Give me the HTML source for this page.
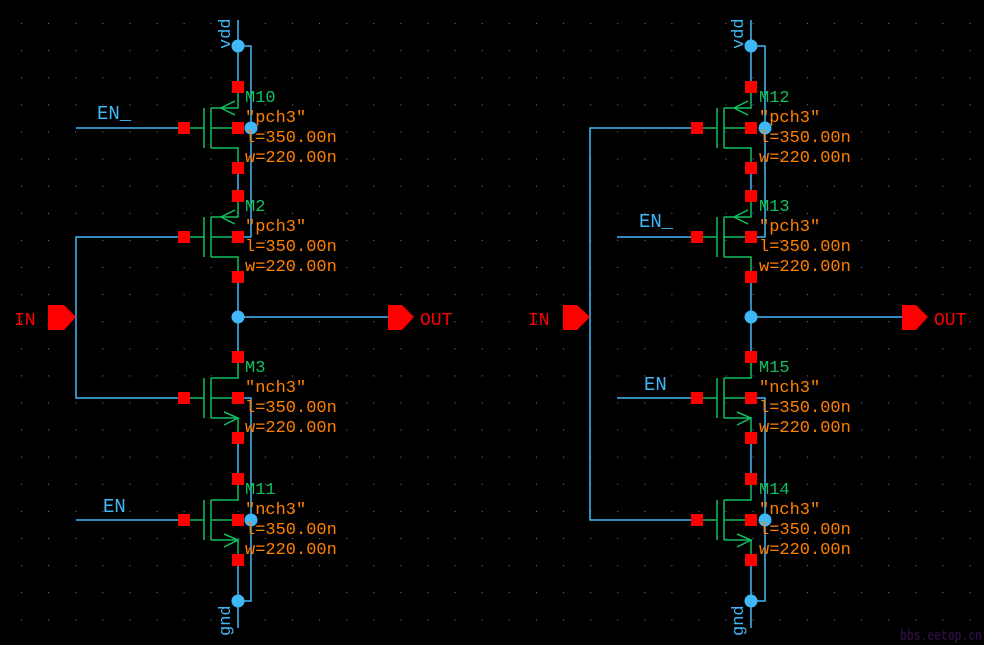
<!DOCTYPE html>
<html><head><meta charset="utf-8"><style>
html,body{margin:0;padding:0;background:#000;}
svg{display:block;}
text{font-family:"Liberation Mono",monospace;}
.g{fill:#10c060;font-size:17px;}
.o{fill:#ff8000;font-size:17px;}
.b{fill:#40b8f8;font-size:19px;}
.r{fill:#ff0000;font-size:19px;}
</style></head><body>
<svg width="984" height="645" viewBox="0 0 984 645" xmlns="http://www.w3.org/2000/svg">
<defs>
<pattern id="grid" x="21" y="-4" width="27.1" height="27.1" patternUnits="userSpaceOnUse">
<rect x="0" y="0" width="1" height="1" fill="#7080a8"/>
</pattern>
<g id="pm" fill="none" stroke="#10c060" stroke-width="1.5">
<line x1="-48" y1="41" x2="-34" y2="41"/>
<line x1="-34" y1="21" x2="-34" y2="61"/>
<line x1="-27" y1="21" x2="-27" y2="61"/>
<polyline points="-27,21 0,21 0,6"/>
<line x1="-27" y1="41" x2="-6" y2="41"/>
<polyline points="-27,61 0,61 0,75"/>
<polyline points="-3,14 -17,21 -3,28"/>
</g>
<g id="nm" fill="none" stroke="#10c060" stroke-width="1.5">
<line x1="-48" y1="41" x2="-34" y2="41"/>
<line x1="-34" y1="21" x2="-34" y2="61"/>
<line x1="-27" y1="21" x2="-27" y2="61"/>
<polyline points="-27,21 0,21 0,6"/>
<line x1="-27" y1="41" x2="-6" y2="41"/>
<polyline points="-27,61 0,61 0,75"/>
<polyline points="-14,55 0,61 -14,68"/>
</g>
<g id="sq">
<rect x="-6" y="-6" width="12" height="12" fill="#ff0000"/>
<rect x="-6" y="75" width="12" height="12" fill="#ff0000"/>
<rect x="-6" y="35" width="12" height="12" fill="#ff0000"/>
<rect x="-60" y="35" width="12" height="12" fill="#ff0000"/>
</g>
</defs>
<rect width="984" height="645" fill="url(#grid)"/>

<!-- ===== LEFT ===== -->
<g stroke="#40b8f8" stroke-width="1.5" fill="none">
<line x1="238" y1="20" x2="238" y2="87"/>
<line x1="238" y1="168" x2="238" y2="196"/>
<line x1="238" y1="277" x2="238" y2="357"/>
<line x1="238" y1="438" x2="238" y2="479"/>
<line x1="238" y1="560" x2="238" y2="628"/>
<polyline points="238,46 251,46 251,237 238,237"/>
<polyline points="238,398 251,398 251,601 238,601"/>
<line x1="238" y1="317" x2="388" y2="317"/>
<line x1="76" y1="128" x2="178" y2="128"/>
<line x1="76" y1="520" x2="178" y2="520"/>
<polyline points="178,237 76,237 76,398 178,398"/>
</g>
<use href="#pm" x="238" y="87"/><use href="#sq" x="238" y="87"/>
<use href="#pm" x="238" y="196"/><use href="#sq" x="238" y="196"/>
<use href="#nm" x="238" y="357"/><use href="#sq" x="238" y="357"/>
<use href="#nm" x="238" y="479"/><use href="#sq" x="238" y="479"/>
<g fill="#40b8f8">
<circle cx="238" cy="46" r="6.5"/><circle cx="238" cy="317" r="6.5"/><circle cx="238" cy="601" r="6.5"/>
<circle cx="251" cy="128" r="6.5"/><circle cx="251" cy="520" r="6.5"/>
</g>
<polygon points="48,305 64,305 76,317 64,330 48,330" fill="#ff0000"/>
<polygon points="388,305 402,305 414,317 402,330 388,330" fill="#ff0000"/>
<text class="r" x="14" y="325" style="font-size:18px">IN</text>
<text class="r" x="420" y="325" style="font-size:18px">OUT</text>
<text class="b" x="97" y="119">EN_</text>
<text class="b" x="103" y="512">EN</text>
<text class="b" transform="translate(230,49) rotate(-90)" style="font-size:17px">vdd</text>
<text class="b" transform="translate(230,636) rotate(-90)" style="font-size:17px">gnd</text>
<text class="g" x="245" y="102">M10</text><text class="o" x="245" y="122">"pch3"</text><text class="o" x="245" y="142">l=350.00n</text><text class="o" x="245" y="162">w=220.00n</text>
<text class="g" x="245" y="211">M2</text><text class="o" x="245" y="231">"pch3"</text><text class="o" x="245" y="251">l=350.00n</text><text class="o" x="245" y="271">w=220.00n</text>
<text class="g" x="245" y="372">M3</text><text class="o" x="245" y="392">"nch3"</text><text class="o" x="245" y="412">l=350.00n</text><text class="o" x="245" y="432">w=220.00n</text>
<text class="g" x="245" y="494">M11</text><text class="o" x="245" y="514">"nch3"</text><text class="o" x="245" y="534">l=350.00n</text><text class="o" x="245" y="554">w=220.00n</text>

<!-- ===== RIGHT ===== -->
<g stroke="#40b8f8" stroke-width="1.5" fill="none">
<line x1="751" y1="20" x2="751" y2="87"/>
<line x1="751" y1="168" x2="751" y2="196"/>
<line x1="751" y1="277" x2="751" y2="357"/>
<line x1="751" y1="438" x2="751" y2="479"/>
<line x1="751" y1="560" x2="751" y2="628"/>
<polyline points="751,46 765,46 765,237 751,237"/>
<polyline points="751,398 765,398 765,601 751,601"/>
<line x1="751" y1="317" x2="902" y2="317"/>
<line x1="617" y1="237" x2="691" y2="237"/>
<line x1="617" y1="398" x2="691" y2="398"/>
<polyline points="691,128 590,128 590,520 691,520"/>
</g>
<use href="#pm" x="751" y="87"/><use href="#sq" x="751" y="87"/>
<use href="#pm" x="751" y="196"/><use href="#sq" x="751" y="196"/>
<use href="#nm" x="751" y="357"/><use href="#sq" x="751" y="357"/>
<use href="#nm" x="751" y="479"/><use href="#sq" x="751" y="479"/>
<g fill="#40b8f8">
<circle cx="751" cy="46" r="6.5"/><circle cx="751" cy="317" r="6.5"/><circle cx="751" cy="601" r="6.5"/>
<circle cx="765" cy="128" r="6.5"/><circle cx="765" cy="520" r="6.5"/>
</g>
<polygon points="563,305 577,305 590,317 577,330 563,330" fill="#ff0000"/>
<polygon points="902,305 916,305 928,317 916,330 902,330" fill="#ff0000"/>
<text class="r" x="528" y="325" style="font-size:18px">IN</text>
<text class="r" x="934" y="325" style="font-size:18px">OUT</text>
<text class="b" x="639" y="227">EN_</text>
<text class="b" x="644" y="390">EN</text>
<text class="b" transform="translate(743,49) rotate(-90)" style="font-size:17px">vdd</text>
<text class="b" transform="translate(743,636) rotate(-90)" style="font-size:17px">gnd</text>
<text class="g" x="759" y="102">M12</text><text class="o" x="759" y="122">"pch3"</text><text class="o" x="759" y="142">l=350.00n</text><text class="o" x="759" y="162">w=220.00n</text>
<text class="g" x="759" y="211">M13</text><text class="o" x="759" y="231">"pch3"</text><text class="o" x="759" y="251">l=350.00n</text><text class="o" x="759" y="271">w=220.00n</text>
<text class="g" x="759" y="372">M15</text><text class="o" x="759" y="392">"nch3"</text><text class="o" x="759" y="412">l=350.00n</text><text class="o" x="759" y="432">w=220.00n</text>
<text class="g" x="759" y="494">M14</text><text class="o" x="759" y="514">"nch3"</text><text class="o" x="759" y="534">l=350.00n</text><text class="o" x="759" y="554">w=220.00n</text>

<text x="900" y="640" textLength="82" lengthAdjust="spacingAndGlyphs" style="font-size:15px;fill:#2a0f3a;font-weight:bold">bbs.eetop.cn</text>
</svg>
</body></html>
